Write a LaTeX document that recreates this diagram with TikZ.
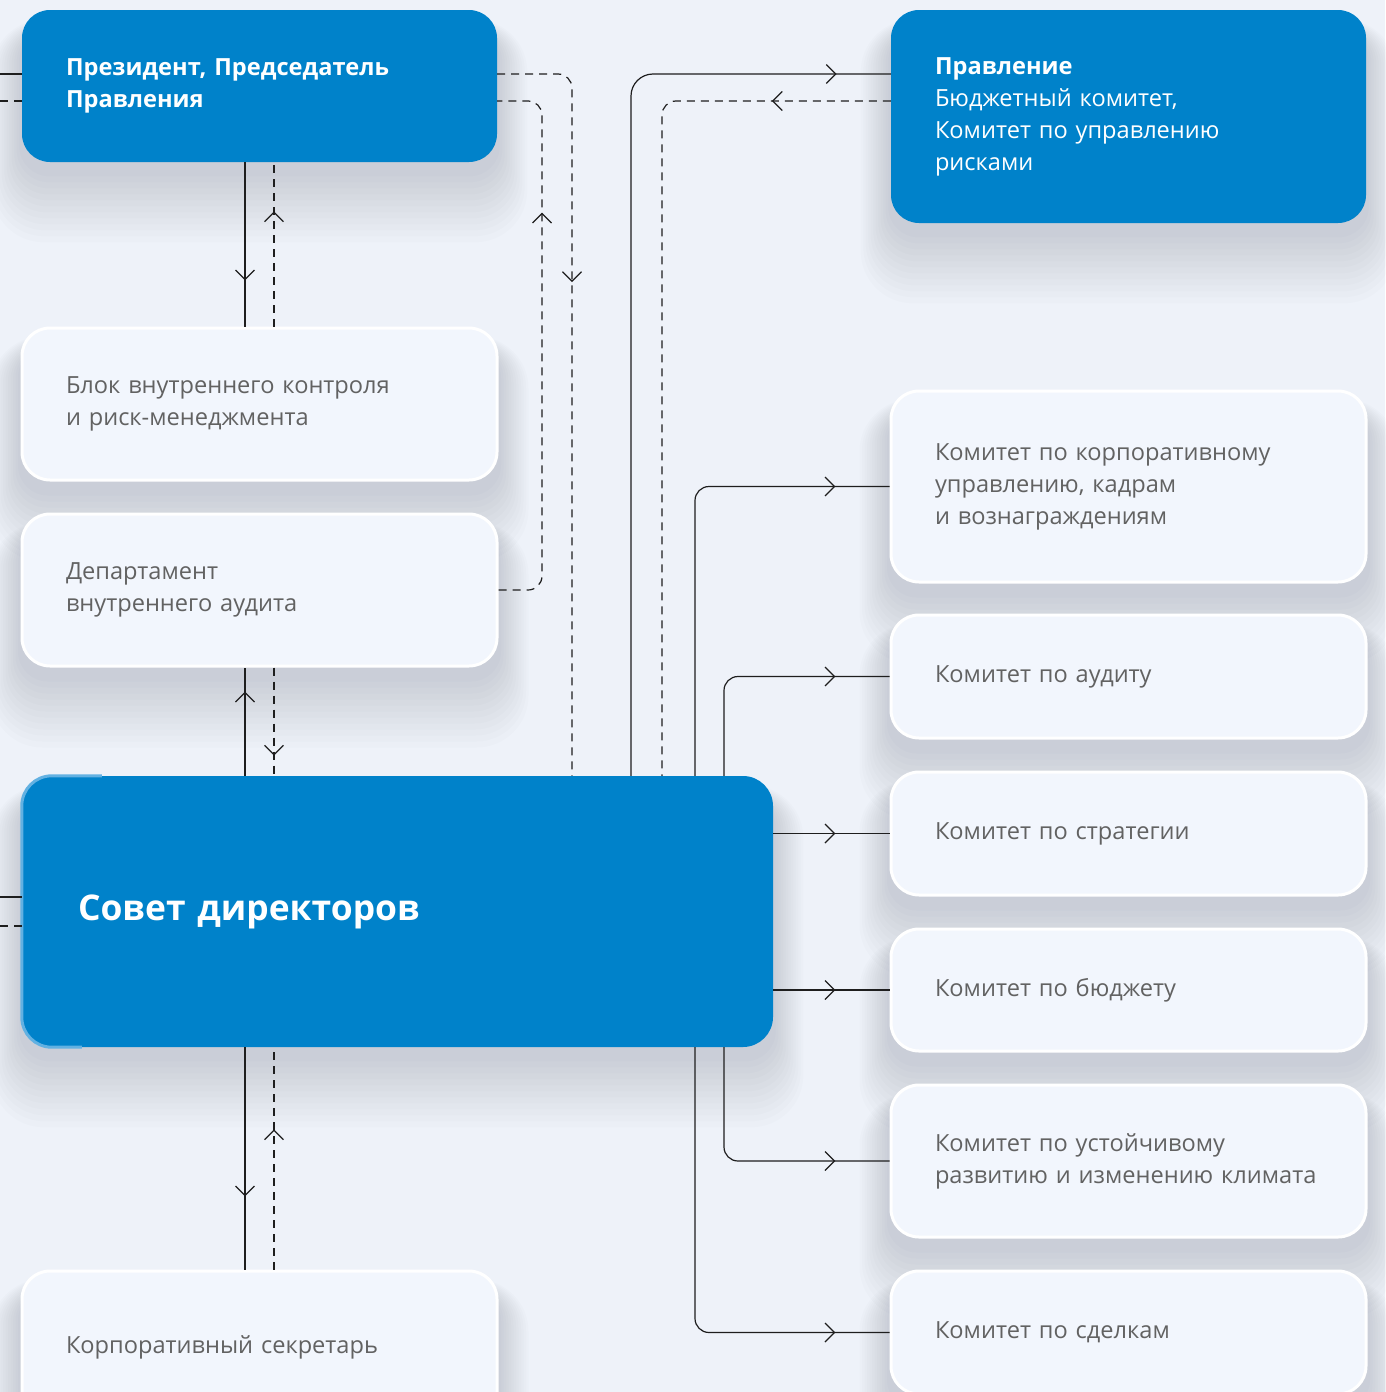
\documentclass[tikz,border=0pt]{standalone}
\usepackage{fontspec}
\setmainfont{Open Sans}
\usetikzlibrary{decorations.markings,calc}
\definecolor{bg}{HTML}{EEF2F9}
\definecolor{blu}{HTML}{0082CA}
\definecolor{lbox}{HTML}{F2F6FD}
\definecolor{txt}{HTML}{626262}
\definecolor{ln}{HTML}{1E1E1E}
\definecolor{blueedge}{HTML}{62B1E2}
\definecolor{shc}{HTML}{3A4A60}
\pgfdeclarelayer{bgl}
\pgfsetlayers{bgl,main}
\begin{document}
\begin{tikzpicture}[x=1pt,y=-1pt,
  boxbase/.style={rounded corners=28pt, align=left, inner xsep=44pt, inner ysep=0pt,
    minimum width=475pt, text width=387pt, font=\fontsize{23.6}{32}\selectfont},
  bluebox/.style={boxbase, fill=blu, text=white},
  lightbox/.style={boxbase, fill=lbox, draw=white, line width=3pt, text=txt},
  conn/.style={draw=ln, line width=1.2pt},
  dsh/.style={dash pattern=on 8pt off 6pt},
  chev/.style={postaction={decorate}, decoration={markings,
    mark=at position #1 with {\draw[solid, sharp corners, ln, line width=1.2pt] (-9.5pt,-9.5pt) -- (0pt,0pt) -- (-9.5pt,9.5pt);}}}
]
\useasboundingbox (0,0) rectangle (1385,1392);

% nodes
\node[bluebox, minimum height=152pt] (pres) at (259.5,86) {\bfseries Президент, Председатель\\\bfseries Правления};
\node[bluebox, minimum height=213pt] (prav) at (1128.5,116.5) {{\bfseries Правление}\\Бюджетный комитет,\\Комитет по управлению\\рисками};
\node[lightbox, minimum height=152pt] (blok) at (259.5,404) {Блок внутреннего контроля\\и риск-менеджмента};
\node[lightbox, minimum height=152pt] (dep) at (259.5,590) {Департамент\\внутреннего аудита};
\node[bluebox, minimum width=751pt, text width=639pt, inner xsep=56pt, minimum height=271pt, rounded corners=30pt,
  font=\fontsize{35.4}{40}\selectfont\bfseries] (sovet) at (397.5,911.5) {Совет директоров};
\draw[blueedge, line width=3pt, rounded corners=30pt] ($(sovet.north west)+(80,0)$) -- (sovet.north west) -- (sovet.south west) -- ($(sovet.south west)+(60,0)$);
\node[lightbox, minimum height=152pt] (sekr) at (259.5,1347) {Корпоративный секретарь};

\node[lightbox, minimum height=191pt] (k1) at (1128.5,486.5) {Комитет по корпоративному\\управлению, кадрам\\и вознаграждениям};
\node[lightbox, minimum height=123pt] (k2) at (1128.5,676.5) {Комитет по аудиту};
\node[lightbox, minimum height=123pt] (k3) at (1128.5,833.5) {Комитет по стратегии};
\node[lightbox, minimum height=122pt] (k4) at (1128.5,990) {Комитет по бюджету};
\node[lightbox, minimum height=152pt] (k5) at (1128.5,1161) {Комитет по устойчивому\\развитию и изменению климата};
\node[lightbox, minimum height=123pt] (k6) at (1128.5,1332.5) {Комитет по сделкам};

% background and soft shadows
\begin{pgfonlayer}{bgl}
\fill[bg] (0,0) rectangle (1385,1392);
\foreach \n in {pres,prav,blok,dep,sovet,sekr,k1,k2,k3,k4,k5,k6}{
  \foreach \i in {1,...,12}{
    \fill[shc, opacity=0.016, rounded corners={(28+2*\i)*1pt}]
      ($(\n.north west)+({-2.5*\i},{22-\i})$) rectangle ($(\n.south east)+({2.5*\i},{8+6*\i})$);
  }
}
\end{pgfonlayer}

% free ends on the left
\coordinate (L1) at (0,74);
\coordinate (L2) at (0,101);
\coordinate (L3) at (0,897);
\coordinate (L4) at (0,926);
\draw[conn] (L1) -- (L1 -| pres.west);
\draw[conn, dsh] (L2) -- (L2 -| pres.west);
\draw[conn] (L3) -- (L3 -| sovet.west);
\draw[conn, dsh] (L4) -- (L4 -| sovet.west);

% president <-> blok
\draw[conn, chev=-47pt] (245,0 |- pres.south) -- (245,0 |- blok.north);
\draw[conn, dsh, chev=-50pt] (274,0 |- blok.north) -- (274,0 |- pres.south);
% president -> sovet (dashed)
\draw[conn, dsh, rounded corners=14pt, chev=276pt] (pres.east |- L1) -| (572,0 |- sovet.north);
% dep -> president (dashed)
\draw[conn, dsh, rounded corners=14pt, chev=414pt] (dep.east) -| (542,0 |- L2) -- (pres.east |- L2);
% sovet <-> dep
\draw[conn, chev=-25pt] (245,0 |- sovet.north) -- (245,0 |- dep.south);
\draw[conn, dsh, chev=-21pt] (274,0 |- dep.south) -- (274,0 |- sovet.north);
% sovet <-> sekr
\draw[conn, chev=-74pt] (245,0 |- sovet.south) -- (245,0 |- sekr.north);
\draw[conn, dsh, chev=-83pt] (274,0 |- sekr.north) -- (274,0 |- sovet.south);
% sovet <-> pravlenie
\draw[conn, rounded corners=22pt, chev=-55pt] (631,0 |- sovet.north) |- (prav.west |- L1);
\draw[conn, dsh, rounded corners=14pt, chev=118pt] (prav.west |- L2) -| (662,0 |- sovet.north);
% sovet -> committees
\draw[conn, rounded corners=14pt, chev=-55pt] (695,0 |- sovet.north) |- (k1.west);
\draw[conn, rounded corners=14pt, chev=-55pt] (724,0 |- sovet.north) |- (k2.west);
\draw[conn, chev=-55pt] (sovet.east |- k3.west) -- (k3.west);
\draw[conn, chev=-55pt] (sovet.east |- k4.west) -- (k4.west);
\draw[conn, rounded corners=14pt, chev=-55pt] (724,0 |- sovet.south) |- (k5.west);
\draw[conn, rounded corners=14pt, chev=-55pt] (695,0 |- sovet.south) |- (k6.west);
\end{tikzpicture}
\end{document}
